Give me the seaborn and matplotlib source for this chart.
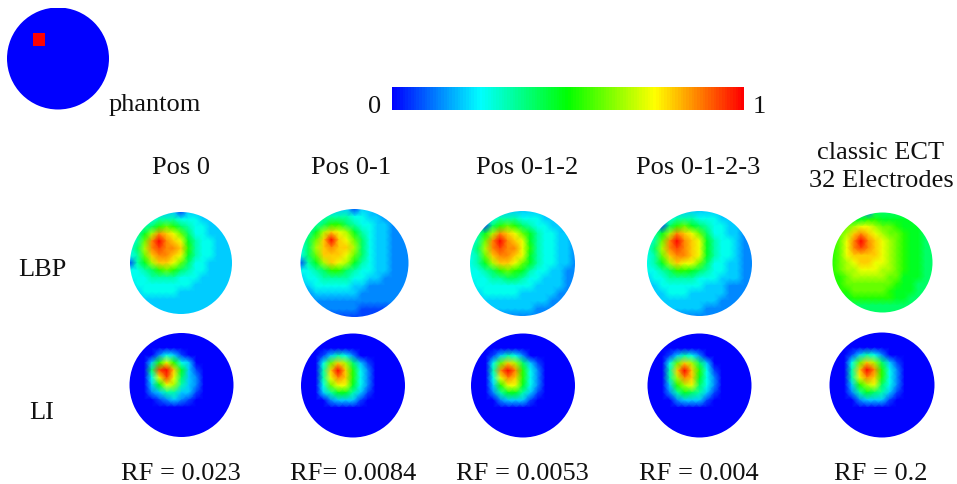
import numpy as np
import matplotlib
matplotlib.use('Agg')
import matplotlib.pyplot as plt
from matplotlib.colors import LinearSegmentedColormap
from matplotlib.patches import Wedge
import seaborn as sns

# Field values, one hex digit per grid node (0 = 0.0, f = 1.0)
phantom_cells = [
    "0000000000000000", "0000000000000000", "0000000000000000", "0000000000000000",
    "0000ff0000000000", "0000ff0000000000", "0000000000000000", "0000000000000000",
    "0000000000000000", "0000000000000000", "0000000000000000", "0000000000000000",
    "0000000000000000", "0000000000000000", "0000000000000000", "0000000000000000",
]

lbp_pos0 = [
    "333333313333333", "344455544433333", "445689865443333", "457adcb96443333",
    "459dfdcb7544333", "46adeddc8544333", "459cddcb7544333", "157accb96443333",
    "445689865443333", "444555544433333", "344444444333333", "334444433333333",
    "333333333333333", "333333333333333", "333333333333333",
]
lbp_pos01 = [
    "222333313322222", "344555544332222", "445688654433222", "457acba75433222",
    "469cfcb96433222", "46acdcca6433222", "469cccb96433222", "157acba75433222",
    "445688654433222", "344555544332222", "334444433222222", "223333332222222",
    "222222222222222", "222222221111111", "111111111111111",
]
lbp_pos012 = [
    "333333333333222", "344455544433322", "441689865443322", "457adcb97544332",
    "459dfdcb7544332", "46adeddb8544332", "459cddcb7544332", "457accb97544332",
    "445689875443322", "444556654433322", "344444444333322", "334444433333222",
    "333333333332222", "333333333222222", "222222222222222",
]
lbp_pos0123 = [
    "333333333332222", "344455544433322", "441689765443322", "457adcb96443322",
    "459dfdcb7544322", "46adedcb7544322", "459cddcb7544322", "457acbb96443322",
    "445688765443322", "344555544433322", "334444443332222", "333444333332222",
    "333333333322222", "333333332222222", "222222222222222",
]
lbp_classic = [
    "666662666666666", "777778877777666", "889abba99877766", "89acdcba9987766",
    "89bdfdcba987766", "89bdedcba987766", "89bccccba987766", "89abccbba987766",
    "89aabbbaa987766", "889aaaaa9977766", "889999999877666", "788999998777666",
    "777888888776666", "666666666666666", "666666666666666",
]

li_pos0 = [
    "000000000000000", "000000000000000", "000000000000000", "000024310000000",
    "00038b843000000", "0006efc73100000", "0004beb63200000", "00037ba53200000",
    "000235533100000", "000012321000000", "000000000000000", "000000000000000",
    "000000000000000", "000000000000000", "000000000000000",
]
li_pos01 = [
    "000000000000000", "000000000000000", "000000000000000", "000135420000000",
    "00049ca63100000", "0005cfc84200000", "0005bdc84200000", "00049bb74200000",
    "000357753100000", "000023331000000", "000000000000000", "000000000000000",
    "000000000000000", "000000000000000", "000000000000000",
]
li_pos012 = [
    "000000000000000", "000000000000000", "000000000000000", "000135420000000",
    "00049ca63100000", "0005dfd84200000", "0004bdc84200000", "00038bb74200000",
    "000257753100000", "000023331000000", "000000000000000", "000000000000000",
    "000000000000000", "000000000000000", "000000000000000",
]
li_pos0123 = [
    "000000000000000", "000000000000000", "000000000000000", "000135420000000",
    "00049ca63000000", "0005cfc84100000", "0005adc74200000", "00038ab64200000",
    "000257653100000", "000023331000000", "000000000000000", "000000000000000",
    "000000000000000", "000000000000000", "000000000000000",
]
li_classic = [
    "000000000000000", "000000000000000", "000000000000000", "000135420000000",
    "00049ca63100000", "0005cfd84200000", "0005bdc84200000", "00038ab64200000",
    "000257653100000", "000023331000000", "000000000000000", "000000000000000",
    "000000000000000", "000000000000000", "000000000000000",
]

column_titles = ["Pos 0", "Pos 0-1", "Pos 0-1-2", "Pos 0-1-2-3", "classic ECT\n32 Electrodes"]
row_titles = ["LBP", "LI"]
rf_labels = ["RF = 0.023", "RF= 0.0084", "RF = 0.0053", "RF = 0.004", "RF = 0.2"]

W, H = 957, 484

sns.set_style('white')
plt.rcParams['font.family'] = ['Liberation Serif', 'DejaVu Serif']

ect_cmap = LinearSegmentedColormap.from_list(
    'ect', ['#0000ff', '#00ffff', '#00ff00', '#ffff00', '#ff0000'], N=256)

fig = plt.figure(figsize=(W / 100, H / 100), dpi=100, facecolor='white')


def to_field(rows):
    return np.array([[int(ch, 16) / 15 for ch in row] for row in rows])


def draw_disk(rows, cx, cy, r, shading='gouraud'):
    # cx, cy, r in picture pixels, y going down
    pad = 1.5
    box = [(cx - r - pad) / W, 1 - (cy + r + pad) / H, (2 * r + 2 * pad) / W, (2 * r + 2 * pad) / H]
    ax = fig.add_axes(box)
    field = to_field(rows)
    sns.heatmap(field, vmin=0, vmax=1, cmap=ect_cmap, cbar=False, xticklabels=False,
                yticklabels=False, ax=ax, shading=shading)
    n = field.shape[0] - 1 if shading == 'gouraud' else field.shape[0]
    unit = n / (2 * r)
    ax.set_xlim(-pad * unit, n + pad * unit)
    ax.set_ylim(n + pad * unit, -pad * unit)
    # white ring gives a soft round edge, the clip path would come out jagged
    ax.add_patch(Wedge((n / 2, n / 2), n, 0, 360, width=n / 2, facecolor='white', edgecolor='none'))
    ax.axis('off')


def label(x, y, s, **kw):
    fig.text(x / W, 1 - y / H, s, fontsize=19, color='#111111',
             va='center', linespacing=1.39, **kw)


draw_disk(phantom_cells, 58, 58.5, 51, shading='flat')

lbp_fields = [lbp_pos0, lbp_pos01, lbp_pos012, lbp_pos0123, lbp_classic]
lbp_disks = [(181, 263, 51), (354.5, 263, 54), (522.5, 263.5, 52.5), (699.5, 263.5, 52.5), (882.5, 262.5, 50)]
for rows, (cx, cy, r) in zip(lbp_fields, lbp_disks):
    draw_disk(rows, cx, cy, r)

li_fields = [li_pos0, li_pos01, li_pos012, li_pos0123, li_classic]
li_disks = [(181.5, 385, 52), (353, 385.5, 52), (523, 385.5, 52), (699.5, 385.5, 52), (882, 385, 52.5)]
for rows, (cx, cy, r) in zip(li_fields, li_disks):
    draw_disk(rows, cx, cy, r)

# colour bar strip
bar_ax = fig.add_axes([391.5 / W, 1 - 110 / H, (744 - 391.5) / W, (110 - 87) / H])
sns.heatmap(np.linspace(0, 1, 128).reshape(1, -1), vmin=0, vmax=1, cmap=ect_cmap, cbar=False,
            xticklabels=False, yticklabels=False, ax=bar_ax)
bar_ax.axis('off')

label(109, 105, "phantom", ha='left')
label(375, 107, "0", ha='center')
label(759, 107, "1", ha='center')

title_x = [181, 351, 527, 698, 881]
title_y = [168, 168, 168, 168, 167]
for x, y, s in zip(title_x, title_y, column_titles):
    label(x, y, s, ha='center')

label(18, 270, row_titles[0], ha='left')
label(29, 413, row_titles[1], ha='left')

rf_x = [181, 353, 522, 699, 881]
for x, s in zip(rf_x, rf_labels):
    label(x, 474, s, ha='center')

fig.savefig('out.png', dpi=100, facecolor='white')
